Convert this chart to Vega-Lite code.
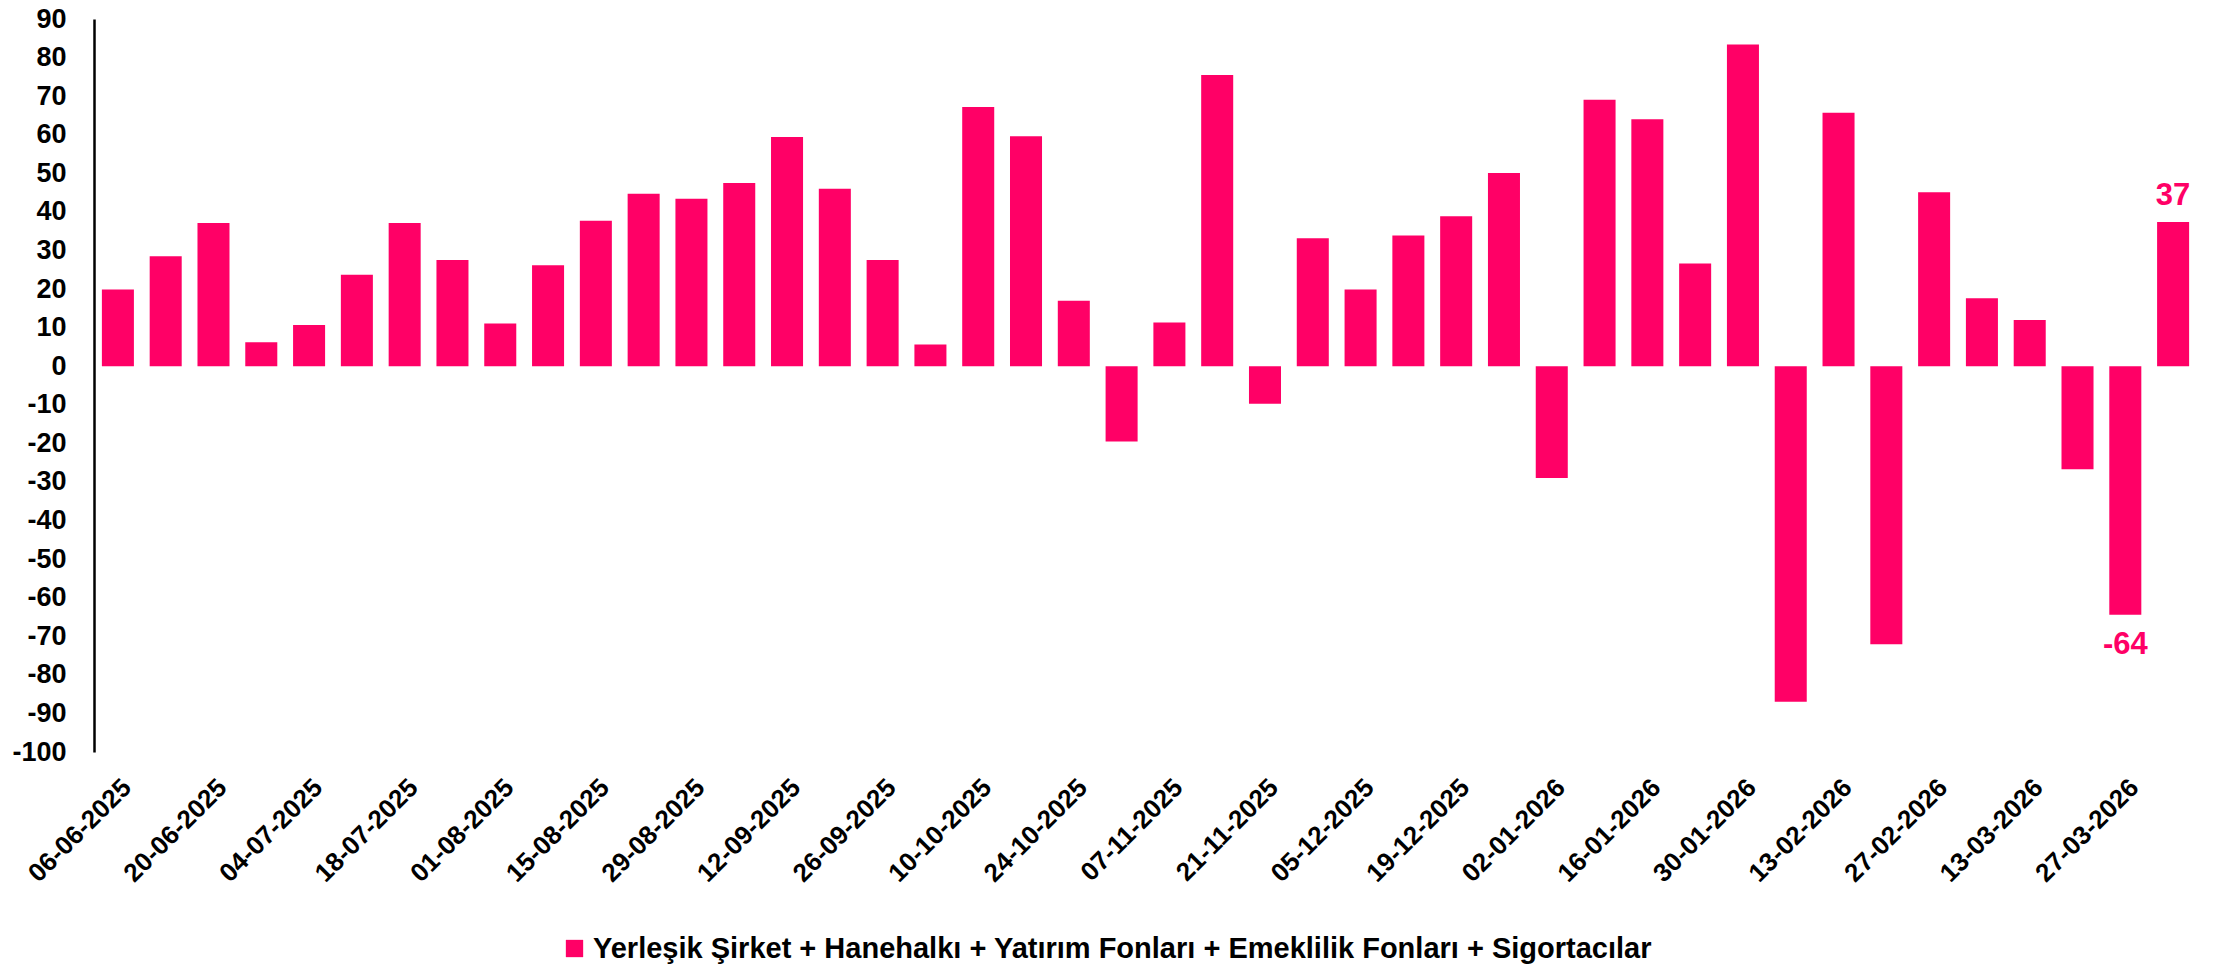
{
  "$schema": "https://vega.github.io/schema/vega-lite/v6.json",
  "width": 2103,
  "height": 733,
  "autosize": {"type": "none"},
  "padding": {"left": 94, "top": 19, "right": 16, "bottom": 217},
  "background": "white",
  "config": {
    "view": {"stroke": null},
    "font": "Liberation Sans",
    "axis": {"labelFont": "Liberation Sans", "labelFontWeight": "bold", "labelColor": "#000000", "grid": false, "ticks": false, "tickSize": 0, "title": null},
    "legend": {"labelFont": "Liberation Sans", "labelFontWeight": "bold", "labelColor": "#000000"}
  },
  "data": {
    "values": [
      {"date": "06-06-2025", "value": 19.9},
      {"date": "13-06-2025", "value": 28.5},
      {"date": "20-06-2025", "value": 37.1},
      {"date": "27-06-2025", "value": 6.2},
      {"date": "04-07-2025", "value": 10.7},
      {"date": "11-07-2025", "value": 23.7},
      {"date": "18-07-2025", "value": 37.1},
      {"date": "25-07-2025", "value": 27.5},
      {"date": "01-08-2025", "value": 11.1},
      {"date": "08-08-2025", "value": 26.2},
      {"date": "15-08-2025", "value": 37.7},
      {"date": "22-08-2025", "value": 44.7},
      {"date": "29-08-2025", "value": 43.4},
      {"date": "05-09-2025", "value": 47.5},
      {"date": "12-09-2025", "value": 59.4},
      {"date": "19-09-2025", "value": 46.0},
      {"date": "26-09-2025", "value": 27.5},
      {"date": "03-10-2025", "value": 5.6},
      {"date": "10-10-2025", "value": 67.2},
      {"date": "17-10-2025", "value": 59.6},
      {"date": "24-10-2025", "value": 17.0},
      {"date": "31-10-2025", "value": -19.5},
      {"date": "07-11-2025", "value": 11.3},
      {"date": "14-11-2025", "value": 75.5},
      {"date": "21-11-2025", "value": -9.7},
      {"date": "28-11-2025", "value": 33.2},
      {"date": "05-12-2025", "value": 19.9},
      {"date": "12-12-2025", "value": 33.9},
      {"date": "19-12-2025", "value": 38.9},
      {"date": "26-12-2025", "value": 50.1},
      {"date": "02-01-2026", "value": -29.0},
      {"date": "09-01-2026", "value": 69.1},
      {"date": "16-01-2026", "value": 64.0},
      {"date": "23-01-2026", "value": 26.6},
      {"date": "30-01-2026", "value": 83.4},
      {"date": "06-02-2026", "value": -87.0},
      {"date": "13-02-2026", "value": 65.7},
      {"date": "20-02-2026", "value": -72.1},
      {"date": "27-02-2026", "value": 45.1},
      {"date": "06-03-2026", "value": 17.6},
      {"date": "13-03-2026", "value": 12.0},
      {"date": "20-03-2026", "value": -26.7},
      {"date": "27-03-2026", "value": -64.4},
      {"date": "03-04-2026", "value": 37.4}
    ]
  },
  "encoding": {
    "x": {
      "field": "date",
      "type": "ordinal",
      "sort": null,
      "scale": {"paddingInner": 0.33, "paddingOuter": 0.165},
      "axis": {
        "orient": "bottom",
        "domain": false,
        "labelAngle": -45,
        "labelFontSize": 26,
        "labelPadding": 22,
        "labelOverlap": false,
        "values": ["06-06-2025", "20-06-2025", "04-07-2025", "18-07-2025", "01-08-2025", "15-08-2025", "29-08-2025", "12-09-2025", "26-09-2025", "10-10-2025", "24-10-2025", "07-11-2025", "21-11-2025", "05-12-2025", "19-12-2025", "02-01-2026", "16-01-2026", "30-01-2026", "13-02-2026", "27-02-2026", "13-03-2026", "27-03-2026"]
      }
    },
    "y": {
      "field": "value",
      "type": "quantitative",
      "scale": {"domain": [-100, 90], "nice": false, "zero": false},
      "axis": {
        "values": [-100, -90, -80, -70, -60, -50, -40, -30, -20, -10, 0, 10, 20, 30, 40, 50, 60, 70, 80, 90],
        "labelExpr": "toString(datum.value)",
        "labelFontSize": 27,
        "labelPadding": 28,
        "labelOverlap": false,
        "labelBound": false,
        "domain": true,
        "domainColor": "#000000",
        "domainWidth": 2.5
      }
    }
  },
  "layer": [
    {
      "mark": {"type": "bar"},
      "encoding": {
        "color": {
          "datum": "Yerleşik Şirket + Hanehalkı + Yatırım Fonları + Emeklilik Fonları + Sigortacılar",
          "type": "nominal",
          "scale": {"range": ["#FF0066"]},
          "legend": {
            "orient": "none",
            "legendX": 466,
            "legendY": 915,
            "title": null,
            "symbolType": "square",
            "symbolSize": 300,
            "symbolStrokeWidth": 0,
            "labelFontSize": 29,
            "labelOffset": 4,
            "labelLimit": 2000,
            "padding": 0
          }
        }
      }
    },
    {
      "mark": {"type": "rule", "color": "#000000", "strokeWidth": 2.5},
      "encoding": {"y": {"datum": 0, "type": "quantitative", "axis": {
        "values": [-100, -90, -80, -70, -60, -50, -40, -30, -20, -10, 0, 10, 20, 30, 40, 50, 60, 70, 80, 90],
        "labelExpr": "toString(datum.value)",
        "labelFontSize": 27,
        "labelPadding": 28,
        "labelOverlap": false,
        "labelBound": false,
        "domain": true,
        "domainColor": "#000000",
        "domainWidth": 2.5
      }}}
    },
    {
      "transform": [{"filter": "datum.date == '03-04-2026'"}],
      "mark": {"type": "text", "color": "#FF0066", "fontWeight": "bold", "fontSize": 31, "baseline": "middle", "dy": -26, "text": {"expr": "toString(round(datum.value))"}}
    },
    {
      "transform": [{"filter": "datum.date == '27-03-2026'"}],
      "mark": {"type": "text", "color": "#FF0066", "fontWeight": "bold", "fontSize": 31, "baseline": "middle", "dy": 30, "text": {"expr": "toString(round(datum.value))"}}
    }
  ]
}
